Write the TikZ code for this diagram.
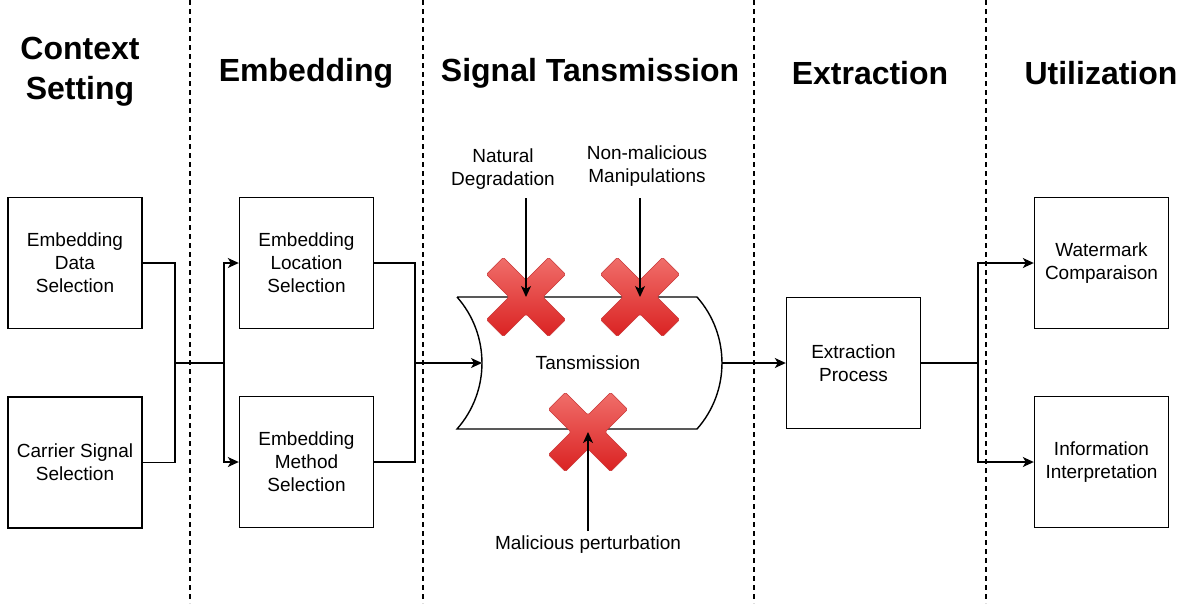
\documentclass[tikz,border=0pt]{standalone}
\usepackage{fontspec}
\setmainfont{Liberation Sans}
\usetikzlibrary{arrows.meta}
\definecolor{xtop}{RGB}{240,110,106}
\definecolor{xbot}{RGB}{218,34,34}
\definecolor{xedge}{RGB}{200,50,50}
\tikzset{
  box/.style={draw,line width=1.4pt,fill=white,minimum width=134pt,minimum height=131pt,inner sep=0pt,align=center,font=\fontsize{19}{23}\selectfont},
  lbl/.style={align=center,font=\fontsize{19}{23}\selectfont,inner sep=0pt},
  ttl/.style={align=center,font=\bfseries\fontsize{32}{40}\selectfont,inner sep=0pt},
  conn/.style={line width=1.4pt},
  arr/.style={line width=1.4pt,-{Stealth[length=11pt,width=10pt,inset=3pt]}},
  sep/.style={line width=1.2pt,dash pattern=on 5pt off 4pt},
  crossfill/.style={top color=xtop,bottom color=xbot,draw=xedge,line width=0.5pt,rounded corners=1.5pt}
}
\newcommand{\redcross}[1]{\shade[crossfill,shift={#1}]
  (22.63,-39.60) -- (39.60,-22.63) -- (16.97,0) -- (39.60,22.63) -- (22.63,39.60) -- (0,16.97)
  -- (-22.63,39.60) -- (-39.60,22.63) -- (-16.97,0) -- (-39.60,-22.63) -- (-22.63,-39.60) -- (0,-16.97) -- cycle;}
\begin{document}
\begin{tikzpicture}[x=1pt,y=-1pt]
\fill[white] (0,0) rectangle (1188,603);
\useasboundingbox (0,0) rectangle (1188,603);
% separators
\foreach \xx in {190,423,754,986} \draw[sep] (\xx,0) -- (\xx,603);
% titles
\node[ttl] (t1) at (80,72) {Context\\Setting};
\node[ttl] (t2) at (306,73) {Embedding};
\node[ttl] (t3) at (590,73) {Signal Tansmission};
\node[ttl] (t4) at (870,73) {Extraction};
\node[ttl] (t5) at (1101,73) {Utilization};
% boxes
\node[box] (eds) at (75,263) {Embedding\\Data\\Selection};
\node[box] (cs) at (75,462.5) {Carrier Signal\\Selection};
\node[box] (loc) at (306.5,263) {Embedding\\Location\\Selection};
\node[box] (met) at (306.5,462) {Embedding\\Method\\Selection};
\node[box] (ext) at (853.5,363) {Extraction\\Process};
\node[box] (wm) at (1101.5,263) {Watermark\\Comparaison};
\node[box] (ii) at (1101.5,462) {Information\\Interpretation};
% transmission shape
\draw[line width=1.4pt,fill=white] (457,297) -- (697,297)
  .. controls (730.3,334.7) and (730.3,391.3) .. (697,429) -- (457,429)
  .. controls (490.3,391.3) and (490.3,334.7) .. (457,297);
\node[lbl] (tr) at (588,363) {Tansmission};
\coordinate (trin) at (482,363);
\coordinate (trout) at (722,363);
% junctions
\coordinate (j1) at (175,363);
\coordinate (j2) at (224,363);
\coordinate (j3) at (415,363);
\coordinate (j4) at (978,363);
% connectors
\draw[conn] (eds.east) -| (j1) |- (cs.east);
\draw[conn] (j1) -- (j2);
\draw[arr] (j2) |- (loc.west);
\draw[arr] (j2) |- (met.west);
\draw[conn] (loc.east) -| (j3) |- (met.east);
\draw[arr] (j3) -- (trin);
\draw[arr] (trout) -- (ext.west);
\draw[conn] (ext.east) -- (j4);
\draw[arr] (j4) |- (wm.west);
\draw[arr] (j4) |- (ii.west);
% crosses
\redcross{(526,297)}
\redcross{(640,297)}
\redcross{(588,432)}
% disturbance labels
\node[lbl] (nd) at (503,169) {Natural\\Degradation};
\node[lbl] (nm) at (647,166.5) {Non-malicious\\Manipulations};
\node[lbl] (mp) at (588,545) {Malicious perturbation};
\coordinate (s1) at (526,198);
\coordinate (e1) at (526,297);
\coordinate (s2) at (640,198);
\coordinate (e2) at (640,297);
\coordinate (s3) at (588,531);
\coordinate (e3) at (588,432);
\draw[arr] (s1) -- (e1);
\draw[arr] (s2) -- (e2);
\draw[arr] (s3) -- (e3);
\end{tikzpicture}
\end{document}
